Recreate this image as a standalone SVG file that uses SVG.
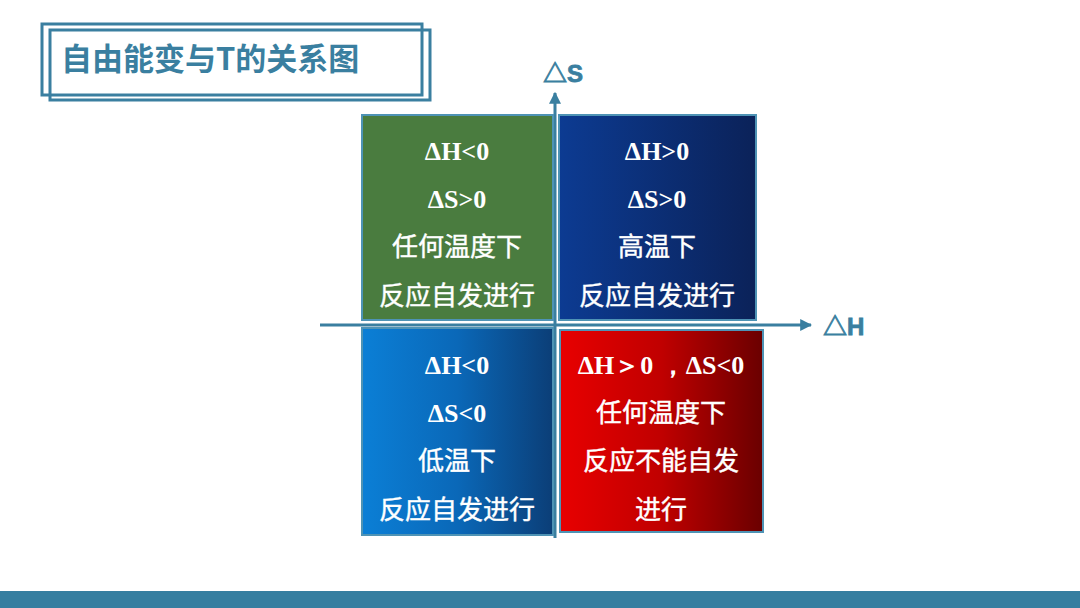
<svg xmlns="http://www.w3.org/2000/svg" width="1080" height="608" viewBox="0 0 1080 608">
<defs>
<style>
.frame{fill:none;stroke:#3A7FA0;stroke-width:3}
.axis{stroke:#3A7FA0;stroke-width:3;fill:none}
.box{stroke:#4E93B5;stroke-width:2}
.t{fill:#ffffff;font-size:26px;text-anchor:middle}
.lat{font-family:"Liberation Serif","Times New Roman",serif;font-weight:bold}
.cjk{font-family:"Liberation Serif","Noto Sans CJK SC",sans-serif;stroke:#ffffff;stroke-width:0.4}
.lbl{fill:#3A7FA0;font-family:"Liberation Sans","Noto Sans CJK SC",sans-serif;font-weight:bold;font-size:24px}
</style>
<linearGradient id="gDark" x1="0" y1="0" x2="1" y2="0"><stop offset="0" stop-color="#0C3B92"/><stop offset="1" stop-color="#0B2259"/></linearGradient>
<linearGradient id="gLight" x1="0" y1="0" x2="1" y2="0"><stop offset="0" stop-color="#0B7FD6"/><stop offset="0.5" stop-color="#0A68B8"/><stop offset="1" stop-color="#0B3E77"/></linearGradient>
<linearGradient id="gRed" x1="0" y1="0" x2="1" y2="0"><stop offset="0" stop-color="#E80000"/><stop offset="0.5" stop-color="#C00000"/><stop offset="1" stop-color="#6A0000"/></linearGradient>
<marker id="arr" viewBox="0 0 10 10" refX="9" refY="5" markerWidth="4" markerHeight="4" orient="auto"><path d="M0,0 L10,5 L0,10 Z" fill="#3A7FA0"/></marker>
</defs>
<rect width="1080" height="608" fill="#ffffff"/>
<rect x="0" y="591" width="1080" height="17" fill="#357EA0"/>
<g id="title">
<rect class="frame" x="42" y="24" width="380" height="71"/>
<rect class="frame" x="50" y="30" width="380" height="70"/>
<text x="61" y="70" font-family="'Noto Sans CJK SC',sans-serif" font-weight="bold" font-size="31" fill="#3A7FA0">自由能变与T的关系图</text>
</g>
<g id="connectors">
<line class="axis" x1="555" y1="538" x2="555" y2="93" marker-end="url(#arr)"/>
<line class="axis" x1="320" y1="325" x2="811" y2="325" marker-end="url(#arr)"/>
</g>
<g id="axis-labels">
<text class="lbl" x="543" y="82" stroke="#3A7FA0" stroke-width="0.8">△S</text>
<text class="lbl" x="823" y="335" stroke="#3A7FA0" stroke-width="0.8">△H</text>
</g>
<g id="q1">
<rect class="box" x="362" y="115" width="191" height="205" fill="#4A7C3F"/>
<text class="t lat" x="457" y="160">ΔH&lt;0</text>
<text class="t lat" x="457" y="208">ΔS&gt;0</text>
<text class="t cjk" x="457" y="256">任何温度下</text>
<text class="t cjk" x="457" y="305">反应自发进行</text>
</g>
<g id="q2">
<rect class="box" x="559" y="115" width="197" height="205" fill="url(#gDark)"/>
<text class="t lat" x="657" y="160">ΔH&gt;0</text>
<text class="t lat" x="657" y="208">ΔS&gt;0</text>
<text class="t cjk" x="657" y="256">高温下</text>
<text class="t cjk" x="657" y="305">反应自发进行</text>
</g>
<g id="q3">
<rect class="box" x="362" y="328" width="191" height="207" fill="url(#gLight)"/>
<text class="t lat" x="457" y="374">ΔH&lt;0</text>
<text class="t lat" x="457" y="422">ΔS&lt;0</text>
<text class="t cjk" x="457" y="470">低温下</text>
<text class="t cjk" x="457" y="519">反应自发进行</text>
</g>
<g id="q4">
<rect class="box" x="560" y="330" width="203" height="202" fill="url(#gRed)"/>
<text class="t lat" x="661" y="374">ΔH＞0 ，ΔS&lt;0</text>
<text class="t cjk" x="661" y="422">任何温度下</text>
<text class="t cjk" x="661" y="470">反应不能自发</text>
<text class="t cjk" x="661" y="519">进行</text>
</g>
</svg>
